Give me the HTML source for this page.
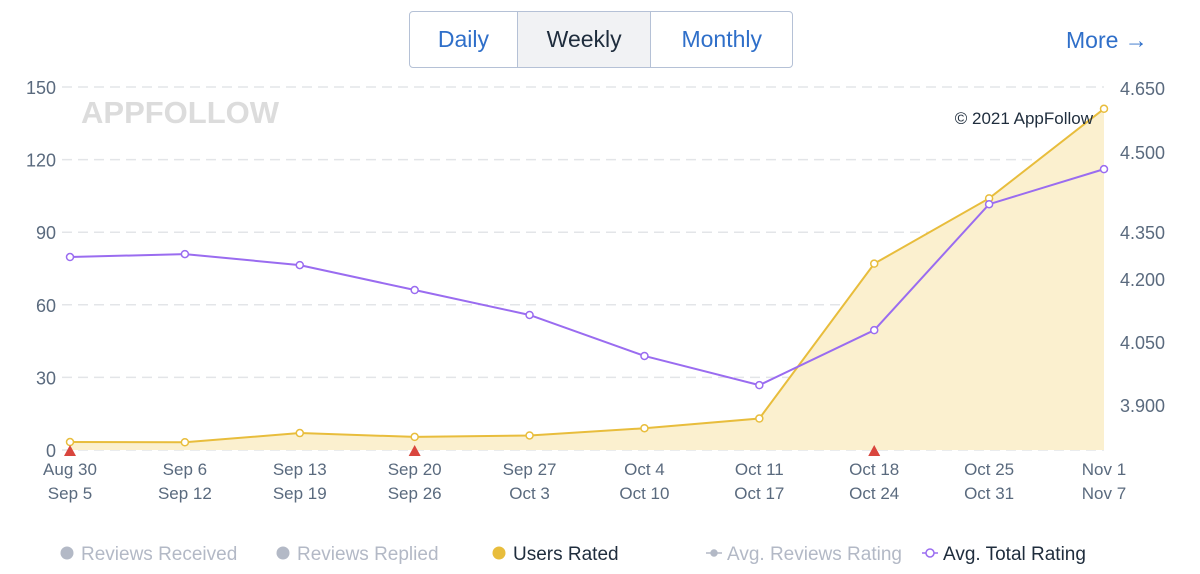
<!DOCTYPE html>
<html><head><meta charset="utf-8"><style>
body{margin:0;width:1200px;height:574px;background:#fff;font-family:"Liberation Sans",sans-serif;overflow:hidden;position:relative}
.btns{position:absolute;left:409px;top:11px;height:57px;width:384px;border:1.5px solid #b5c1d6;border-radius:4px;display:flex;box-sizing:border-box;overflow:hidden}
.btns div{display:flex;align-items:center;justify-content:center;font-size:23px;color:#2f6fc9;border-right:1.5px solid #b5c1d6}
.btns div:last-child{border-right:none}
.more{position:absolute;left:1066px;top:27px;font-size:23px;color:#2f6fc9}
</style></head><body>
<div class="btns">
<div style="width:108px">Daily</div>
<div style="width:134px;background:#f1f2f4;color:#1f2d3d">Weekly</div>
<div style="width:142px">Monthly</div>
</div>
<div class="more">More →</div>
<svg id="c" width="1200" height="574" style="position:absolute;left:0;top:0"></svg>
<script>
const categoriesTop=["Aug 30","Sep 6","Sep 13","Sep 20","Sep 27","Oct 4","Oct 11","Oct 18","Oct 25","Nov 1"];
const categoriesBottom=["Sep 5","Sep 12","Sep 19","Sep 26","Oct 3","Oct 10","Oct 17","Oct 24","Oct 31","Nov 7"];
const usersRated=[3.3,3.2,7,5.4,6,9,13,77,104,141];
const avgTotalRating=[4.250,4.257,4.231,4.172,4.113,4.016,3.947,4.077,4.375,4.458];
const leftTicks=[0,30,60,90,120,150];
const rightTicks=["4.650","4.500","4.350","4.200","4.050","3.900"];
const rightTickY=[88,152,232,279,342,405];
const markers=[0,3,7];
const svg=document.getElementById('c');const NS="http://www.w3.org/2000/svg";
function mk(t,a,p){const e=document.createElementNS(NS,t);for(const k in a)e.setAttribute(k,a[k]);(p||svg).appendChild(e);return e;}
const x=i=>70+i*(1104-70)/(categoriesTop.length-1);
const yL=v=>450-v*363/150;
const yR=v=>405-(v-3.9)*422.7;
leftTicks.forEach(t=>{
 const g=mk('line',{x1:62,x2:1104,y1:yL(t),y2:yL(t),stroke:'#e3e5e8','stroke-width':1.5,'stroke-dasharray':'10,6'});
 
 const l=mk('text',{x:56,y:yL(t)+7,'text-anchor':'end','font-size':18,fill:'#5a6a7e'});l.textContent=t;
 
});
rightTicks.forEach((t,i)=>{const l=mk('text',{x:1120,y:rightTickY[i]+7,'font-size':18,fill:'#5a6a7e'});l.textContent=t;
 });
const wm=mk('text',{x:81,y:123,'font-size':31,'font-weight':'bold',fill:'#dcdcdc'});wm.textContent='APPFOLLOW';

let pts=usersRated.map((v,i)=>x(i)+','+yL(v)).join(' ');
const area=mk('polygon',{points:x(0)+',450 '+pts+' '+x(usersRated.length-1)+',450',fill:'#fbf0cf'});

const ul=mk('polyline',{points:pts,fill:'none',stroke:'#e8bd3c','stroke-width':2});

const rl=mk('polyline',{points:avgTotalRating.map((v,i)=>x(i)+','+yR(v)).join(' '),fill:'none',stroke:'#9a6cf0','stroke-width':2});

usersRated.forEach((v,i)=>{const c=mk('circle',{cx:x(i),cy:yL(v),r:3.5,fill:'#fff',stroke:'#e8bd3c','stroke-width':1.5});
 });
avgTotalRating.forEach((v,i)=>{const c=mk('circle',{cx:x(i),cy:yR(v),r:3.5,fill:'#fff',stroke:'#9a6cf0','stroke-width':1.5});
 });
markers.forEach(i=>{const m=mk('polygon',{points:`${x(i)-6},456 ${x(i)+6},456 ${x(i)},445`,fill:'#d9463e'});
 });
const cp=mk('text',{x:1093,y:124,'text-anchor':'end','font-size':17,fill:'#1f2d3d'});cp.textContent='© 2021 AppFollow';

categoriesTop.forEach((c,i)=>{
 const a=mk('text',{x:x(i),y:475,'text-anchor':'middle','font-size':17,fill:'#5a6a7e'});a.textContent=c;
 
 const b=mk('text',{x:x(i),y:499,'text-anchor':'middle','font-size':17,fill:'#5a6a7e'});b.textContent=categoriesBottom[i];
 
});
const legend=[["Reviews Received",60,'dot','#b3b9c6','#b3b9c6'],["Reviews Replied",276,'dot','#b3b9c6','#b3b9c6'],["Users Rated",492,'dot','#e8bd3c','#1f2d3d'],["Avg. Reviews Rating",706,'ld','#b3b9c6','#b3b9c6'],["Avg. Total Rating",922,'lc','#9a6cf0','#1f2d3d']];
legend.forEach(l=>{
 const g=mk('g',{});
 if(l[2]=='dot')mk('circle',{cx:l[1]+7,cy:553,r:6.5,fill:l[3]},g);
 else{mk('line',{x1:l[1],x2:l[1]+16,y1:553,y2:553,stroke:l[3],'stroke-width':1.5},g);
  mk('circle',{cx:l[1]+8,cy:553,r:l[2]=='ld'?3:4,fill:l[2]=='ld'?l[3]:'#fff',stroke:l[3],'stroke-width':1.5},g);}
 const t=mk('text',{x:l[1]+21,y:560,'font-size':19,fill:l[4]},g);t.textContent=l[0];
});
</script>
</body></html>
